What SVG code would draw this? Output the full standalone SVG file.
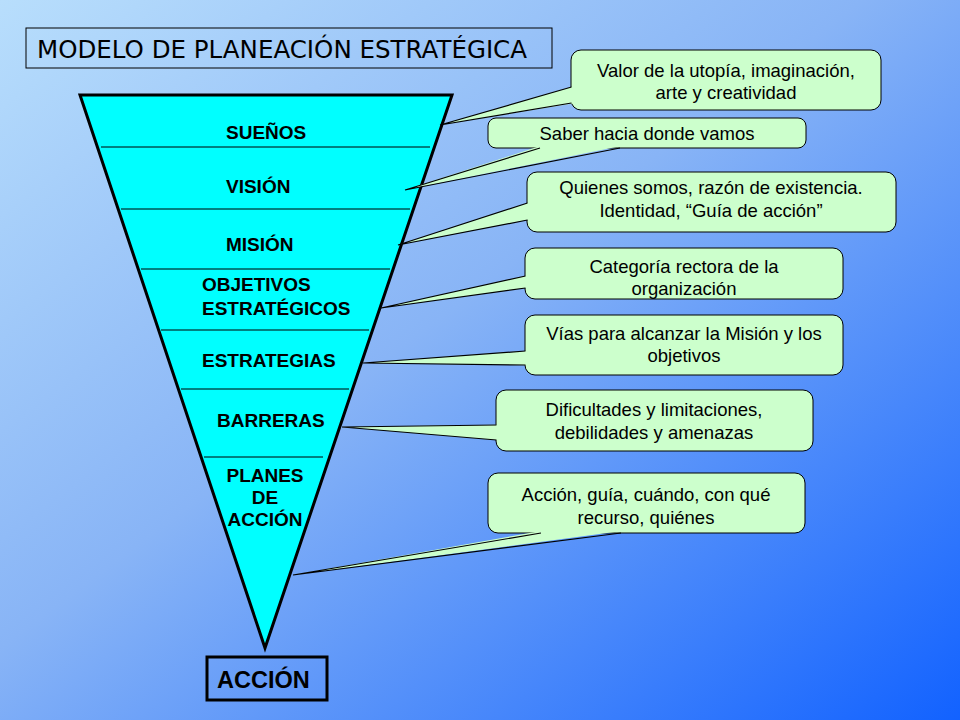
<svg xmlns="http://www.w3.org/2000/svg" width="960" height="720" viewBox="0 0 960 720">
<defs>
<linearGradient id="bg" x1="0" y1="0" x2="1" y2="1">
<stop offset="0" stop-color="#b8defc"/>
<stop offset="0.45" stop-color="#88b4f6"/>
<stop offset="1" stop-color="#1262ff"/>
</linearGradient>
</defs>
<style>
.lbl{font-family:"Liberation Sans",Arial,sans-serif;font-weight:bold;font-size:19px;fill:#000}
.ct{font-family:"Liberation Sans",Arial,sans-serif;font-size:18.5px;fill:#000;text-anchor:middle}
.box{fill:#ccffcc;stroke:#000;stroke-width:1}
.tf{fill:#ccffcc;stroke:none}
.ts{fill:none;stroke:#000;stroke-width:1.2;stroke-linejoin:miter}
.div{stroke:#000;stroke-width:1}
</style>
<rect x="0" y="0" width="960" height="720" fill="url(#bg)"/>
<g id="title">
<rect x="26" y="28" width="526" height="40" fill="none" stroke="#000" stroke-width="1"/>
<text x="37" y="58" font-family="'DejaVu Sans',sans-serif" font-size="24" textLength="490" lengthAdjust="spacingAndGlyphs">MODELO DE PLANEACIÓN ESTRATÉGICA</text>
</g>
<g id="funnel">
<polygon points="80,95 452,95 265,648" fill="#00ffff" stroke="#000" stroke-width="3"/>
<line class="div" x1="101" y1="147" x2="430" y2="147"/>
<line class="div" x1="121" y1="209" x2="410" y2="209"/>
<line class="div" x1="141" y1="269" x2="390" y2="269"/>
<line class="div" x1="161" y1="330" x2="369" y2="330"/>
<line class="div" x1="181" y1="389" x2="349" y2="389"/>
<line class="div" x1="204" y1="457" x2="323" y2="457"/>
</g>
<g id="n-suenos"><text class="lbl" x="226" y="139">SUEÑOS</text></g>
<g id="n-vision"><text class="lbl" x="226" y="193">VISIÓN</text></g>
<g id="n-mision"><text class="lbl" x="226" y="251">MISIÓN</text></g>
<g id="n-objetivos"><text class="lbl" x="202" y="291">OBJETIVOS</text><text class="lbl" x="202" y="315">ESTRATÉGICOS</text></g>
<g id="n-estrategias"><text class="lbl" x="202" y="367">ESTRATEGIAS</text></g>
<g id="n-barreras"><text class="lbl" x="217" y="427">BARRERAS</text></g>
<g id="n-planes"><text class="lbl" x="265" y="482" text-anchor="middle">PLANES</text><text class="lbl" x="265" y="504" text-anchor="middle">DE</text><text class="lbl" x="265" y="526" text-anchor="middle">ACCIÓN</text></g>
<g id="n-accion">
<rect x="207" y="657" width="120" height="43" fill="none" stroke="#000" stroke-width="3"/>
<text x="217" y="688" font-family="'Liberation Sans',Arial,sans-serif" font-weight="bold" font-size="23.5">ACCIÓN</text>
</g>
<g id="c1"><rect class="box" x="571" y="50" width="310" height="60" rx="10"/><text class="ct" x="726" y="77">Valor de la utopía, imaginación,</text><text class="ct" x="726" y="99">arte y creatividad</text></g>
<g id="c2"><rect class="box" x="488" y="118" width="318" height="30" rx="8"/><text class="ct" x="647" y="140">Saber hacia donde vamos</text></g>
<g id="c3"><rect class="box" x="527" y="172" width="369" height="60" rx="10"/><text class="ct" x="711" y="194">Quienes somos, razón de existencia.</text><text class="ct" x="711" y="217">Identidad, “Guía de acción”</text></g>
<g id="c4"><rect class="box" x="525" y="248" width="318" height="51" rx="10"/><text class="ct" x="684" y="273">Categoría rectora de la</text><text class="ct" x="684" y="295">organización</text></g>
<g id="c5"><rect class="box" x="525" y="315" width="318" height="60" rx="10"/><text class="ct" x="684" y="340">Vías para alcanzar la Misión y los</text><text class="ct" x="684" y="362">objetivos</text></g>
<g id="c6"><rect class="box" x="496" y="390" width="317" height="61" rx="10"/><text class="ct" x="654" y="416">Dificultades y limitaciones,</text><text class="ct" x="654" y="439">debilidades y amenazas</text></g>
<g id="c7"><rect class="box" x="488" y="473" width="317" height="60" rx="10"/><text class="ct" x="646" y="501">Acción, guía, cuándo, con qué</text><text class="ct" x="646" y="524">recurso, quiénes</text></g>
<g id="connectors">
<polygon class="tf" points="440,125 573,86.6 573,103.4"/><polyline class="ts" points="571.5,87 440,125 571.5,103"/>
<polygon class="tf" points="405,190 540,146 621,146"/><polyline class="ts" points="540,148 405,190 620,148"/>
<polygon class="tf" points="398,245 529,202.6 529,219.6"/><polyline class="ts" points="527.5,203 398,245 527.5,220"/>
<polygon class="tf" points="381,308 527,275.6 527,287.8"/><polyline class="ts" points="525.5,276 381,308 525.5,288"/>
<polygon class="tf" points="363,363 527,350.8 527,365.2"/><polyline class="ts" points="525.5,351 363,363 525.5,365"/>
<polygon class="tf" points="342,427 498,424.8 498,440.2"/><polyline class="ts" points="496.5,425 342,427 496.5,440"/>
<polygon class="tf" points="293,575 541,531 622,531"/><polyline class="ts" points="541,533 293,575 621,533"/>
</g>
</svg>
